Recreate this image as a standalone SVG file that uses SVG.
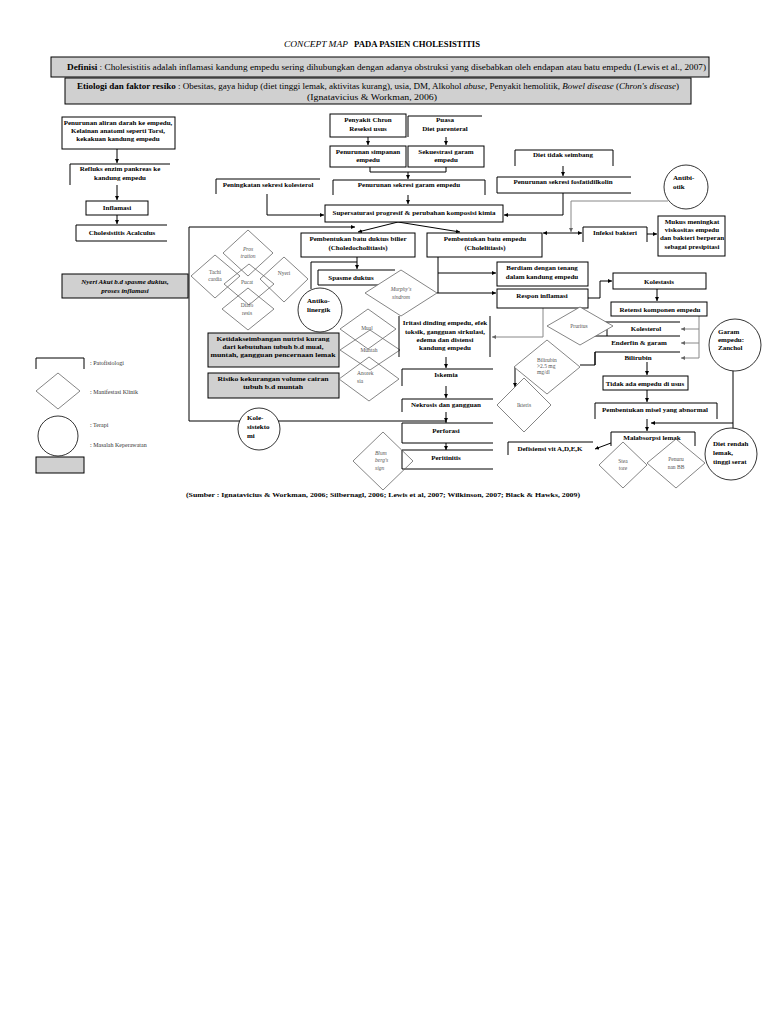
<svg xmlns="http://www.w3.org/2000/svg" width="768" height="1024" viewBox="0 0 768 1024">
<style>
text{font-family:"Liberation Serif","Times New Roman",serif;fill:#000}
.b{font-size:7px;font-weight:bold;text-anchor:middle}
.bl{font-size:7px;font-weight:bold}
.d{font-size:5.5px;fill:#555;text-anchor:middle}
.dl{font-size:5.5px;fill:#555}
.it{font-style:italic}
.box{fill:#fff;stroke:#000;stroke-width:1}
.op{fill:none;stroke:#000;stroke-width:1}
.gr{fill:#d0d0d0;stroke:#000;stroke-width:1}
.dia{fill:none;stroke:#666;stroke-width:0.8}
.cir{fill:#fff;stroke:#000;stroke-width:0.8}
.c{fill:none;stroke:#000;stroke-width:1}
.cg{fill:none;stroke:#888;stroke-width:1}
.lg{font-size:6px;fill:#333}
</style>
<defs>
<marker id="a" viewBox="0 0 10 10" refX="10" refY="5" markerWidth="4" markerHeight="4" orient="auto-start-reverse"><path d="M0,0 L10,5 L0,10 z" fill="#000"/></marker>
<marker id="ag" viewBox="0 0 10 10" refX="10" refY="5" markerWidth="4" markerHeight="4" orient="auto-start-reverse"><path d="M0,0 L10,5 L0,10 z" fill="#666"/></marker>
</defs>
<rect width="768" height="1024" fill="#fff"/>

<!-- header -->
<g id="title">
<text x="284" y="47" font-size="9" font-style="italic" textLength="64" lengthAdjust="spacingAndGlyphs">CONCEPT MAP</text>
<text x="354" y="47" font-size="8.5" font-weight="bold" textLength="126" lengthAdjust="spacingAndGlyphs">PADA PASIEN CHOLESISTITIS</text>
</g>
<g id="definisi">
<rect x="51" y="57" width="658" height="20" class="gr"/>
<text x="67" y="70" font-size="8.5" textLength="639" lengthAdjust="spacingAndGlyphs"><tspan font-weight="bold">Definisi</tspan> : Cholesistitis adalah inflamasi kandung empedu sering dihubungkan dengan adanya obstruksi yang disebabkan oleh  endapan atau batu empedu (Lewis et al., 2007)</text>
</g>
<g id="etiologi">
<rect x="65" y="78" width="626" height="26" class="gr"/>
<text x="77" y="89" font-size="8.5" textLength="602" lengthAdjust="spacingAndGlyphs"><tspan font-weight="bold">Etiologi dan faktor resiko</tspan> : Obesitas, gaya hidup (diet tinggi lemak, aktivitas kurang), usia, DM, Alkohol <tspan font-style="italic">abuse</tspan>, Penyakit hemolitik, <tspan font-style="italic">Bowel disease</tspan> (<tspan font-style="italic">Chron's disease</tspan>)</text>
<text x="372" y="100" font-size="8.5" text-anchor="middle" textLength="130" lengthAdjust="spacingAndGlyphs">(Ignatavicius &amp; Workman, 2006)</text>
</g>

<!-- connectors -->
<g id="connectors">
<path class="c" d="M117,149 V163" marker-end="url(#a)"/>
<path class="c" d="M117,185 V200" marker-end="url(#a)"/>
<path class="c" d="M117,215 V224" marker-end="url(#a)"/>
<path class="c" d="M368,137 V145" marker-end="url(#a)"/>
<path class="c" d="M446,137 V145" marker-end="url(#a)"/>
<path class="c" d="M370,167 V172 H446 V167"/>
<path class="c" d="M408,172 V179" marker-end="url(#a)"/>
<path class="c" d="M408,195 V204" marker-end="url(#a)"/>
<path class="c" d="M267,194 V215 H324" marker-end="url(#a)"/>
<path class="c" d="M563,166 V176" marker-end="url(#a)"/>
<path class="c" d="M563,193 V215 H504" marker-end="url(#a)"/>
<path class="cg" d="M668,201 H571 V232" marker-end="url(#ag)"/>
<path class="c" d="M582,233 H543" marker-start="url(#a)" marker-end="url(#a)"/>
<path class="c" d="M647,234 H657" marker-end="url(#a)"/>
<path class="c" d="M398,222 L358,232" marker-end="url(#a)"/>
<path class="c" d="M398,222 L460,232" marker-end="url(#a)"/>
<path class="c" d="M189,421 V227 H355" marker-end="url(#a)"/>
<path class="c" d="M189,421 H240"/>
<path class="c" d="M278,421 H446 V423"/>
<path class="c" d="M357,257 V269" marker-end="url(#a)"/>
<path class="c" d="M311,289 V262 H357"/>
<path class="c" d="M438,257 V293"/>
<path class="c" d="M438,273 H496" marker-end="url(#a)"/>
<path class="c" d="M437,293 H496" marker-end="url(#a)"/>
<path class="c" d="M588,298 H600 V281 H612" marker-end="url(#a)"/>
<path class="cg" d="M543,308 V337 H492" marker-end="url(#ag)"/>
<path class="c" d="M657,289 V301" marker-end="url(#a)"/>
<path class="cg" d="M699,316 V358"/>
<path class="cg" d="M699,329 H681" marker-end="url(#ag)"/>
<path class="cg" d="M699,343 H681" marker-end="url(#ag)"/>
<path class="cg" d="M699,358 H681" marker-end="url(#ag)"/>
<path class="c" d="M580,365 H595 V352"/>
<path class="c" d="M515,367 V387" marker-end="url(#a)"/>
<path class="c" d="M647,362 V375" marker-end="url(#a)"/>
<path class="c" d="M647,390 V402" marker-end="url(#a)"/>
<path class="c" d="M647,419 V431" marker-end="url(#a)"/>
<path class="c" d="M733,371 V430"/>
<path class="c" d="M733,423 H651" marker-end="url(#a)"/>
<path class="c" d="M611,443 L595,449" marker-end="url(#a)"/>
<path class="c" d="M446,357 V368" marker-end="url(#a)"/>
<path class="c" d="M446,386 V398" marker-end="url(#a)"/>
<path class="c" d="M446,412 V422" marker-end="url(#a)"/>
<path class="c" d="M446,443 V450" marker-end="url(#a)"/>
</g>

<!-- left column -->
<g id="n-penurunan-aliran">
<rect x="62" y="117" width="113" height="32" class="box"/>
<text class="b" x="118" y="125">Penurunan aliran darah ke empedu,</text>
<text class="b" x="118" y="133">Kelainan anatomi seperti Torsi,</text>
<text class="b" x="118" y="141">kekakuan kandung empedu</text>
</g>
<g id="n-refluks">
<path class="op" d="M70,185 V164 H170"/>
<text class="b" x="120" y="171">Refluks enzim pankreas ke</text>
<text class="b" x="120" y="180">kandung empedu</text>
</g>
<g id="n-inflamasi">
<rect x="86" y="201" width="62" height="14" class="box"/>
<text class="b" x="117" y="210">Inflamasi</text>
</g>
<g id="n-acalculus">
<path class="op" d="M167,225 H76 V241 H167"/>
<text class="b" x="122" y="235">Cholesistitis  Acalculus</text>
</g>
<g id="n-nyeri-akut">
<rect x="62" y="274" width="126" height="24" class="gr"/>
<text class="b it" x="125" y="284">Nyeri Akut b.d spasme duktus,</text>
<text class="b it" x="125" y="293">proses inflamasi</text>
</g>

<!-- middle top -->
<g id="n-chron">
<rect x="330" y="114" width="76" height="23" class="box"/>
<text class="b" x="368" y="122">Penyakit Chron</text>
<text class="b" x="368" y="131">Reseksi usus</text>
</g>
<g id="n-puasa">
<path class="op" d="M408,137 V116 H482"/>
<text class="b" x="445" y="122">Puasa</text>
<text class="b" x="445" y="131">Diet parenteral</text>
</g>
<g id="n-simpanan">
<rect x="330" y="146" width="76" height="21" class="box"/>
<text class="b" x="368" y="154">Penurunan simpanan</text>
<text class="b" x="368" y="162">empedu</text>
</g>
<g id="n-sekuestrasi">
<rect x="408" y="146" width="76" height="21" class="box"/>
<text class="b" x="446" y="154">Sekuestrasi garam</text>
<text class="b" x="446" y="162">empedu</text>
</g>
<g id="n-sekresi-garam">
<path class="op" d="M333,195 V180 H485 V195"/>
<text class="b" x="409" y="187">Penurunan sekresi garam empedu</text>
</g>
<g id="n-peningkatan">
<path class="op" d="M216,194 V179 H320"/>
<text class="b" x="268" y="187">Peningkatan sekresi kolesterol</text>
</g>
<g id="n-supersaturasi">
<rect x="325" y="205" width="178" height="17" class="box"/>
<text class="b" x="414" y="215">Supersaturasi progresif &amp; perubahan komposisi kimia</text>
</g>
<g id="n-diet-tidak">
<path class="op" d="M515,166 V150 H613 V166"/>
<text class="b" x="563" y="157">Diet tidak seimbang</text>
</g>
<g id="n-fosfatidilkolin">
<path class="op" d="M631,177 H497 V193 H631"/>
<text class="b" x="563" y="184">Penurunan sekresi fosfatidilkolin</text>
</g>
<g id="n-antibiotik">
<circle cx="686" cy="187" r="22" class="cir"/>
<text class="bl" x="673" y="180">Antibi-</text>
<text class="bl" x="673" y="189">otik</text>
</g>
<g id="n-infeksi">
<path class="op" d="M583,242 V227 H647 V242"/>
<text class="b" x="615" y="235">Infeksi bakteri</text>
</g>
<g id="n-mukus">
<rect x="658" y="216" width="67" height="40" class="box" stroke-width="1.3"/>
<text class="b" x="692" y="224">Mukus meningkat</text>
<text class="b" x="692" y="232">viskositas empedu</text>
<text class="b" x="692" y="240">dan bakteri berperan</text>
<text class="b" x="692" y="249">sebagai presipitasi</text>
</g>

<!-- batu -->
<g id="n-batu-duktus">
<rect x="301" y="233" width="114" height="24" class="box"/>
<text class="b" x="358" y="241">Pembentukan batu duktus bilier</text>
<text class="b" x="358" y="250">(Choledocholitiasis)</text>
</g>
<g id="n-batu-empedu">
<rect x="427" y="233" width="115" height="24" class="box"/>
<text class="b" x="485" y="241">Pembentukan batu empedu</text>
<text class="b" x="485" y="250">(Cholelitiasis)</text>
</g>

<!-- manifestations cluster -->
<g id="n-prostration"><path class="dia" d="M248,230 L273,253 L248,276 L223,253 Z"/><text class="d it" x="248" y="251">Pros</text><text class="d it" x="248" y="258">tration</text></g>
<g id="n-tachicardia"><path class="dia" d="M215,255 L240,276 L215,298 L191,276 Z"/><text class="d" x="215" y="274">Tachi</text><text class="d" x="215" y="281">cardia</text></g>
<g id="n-nyeri"><path class="dia" d="M284,257 L308,279 L284,302 L260,279 Z"/><text class="d" x="284" y="275">Nyeri</text></g>
<g id="n-pucat"><path class="dia" d="M249,264 L274,284 L249,305 L224,284 Z"/><text class="d" x="247" y="284">Pucat</text></g>
<g id="n-diaforesis"><path class="dia" d="M248,288 L274,309 L248,330 L222,309 Z"/><text class="d" x="247" y="307">Diafo</text><text class="d" x="247" y="315">resis</text></g>

<g id="n-spasme">
<path class="op" d="M395,270 H318 V285 H395"/>
<text class="b" x="351" y="280">Spasme duktus</text>
</g>
<g id="n-antikolinergik">
<circle cx="320" cy="310" r="22" class="cir"/>
<text class="bl" x="307" y="303">Antiko-</text>
<text class="bl" x="307" y="312">linergik</text>
</g>
<g id="n-murphy">
<path d="M401,270 L437,293 L401,316 L365,293 Z" fill="#fff" stroke="#666" stroke-width="0.8"/>
<text class="d it" x="401" y="291">Murphy's</text>
<text class="d it" x="401" y="299">sindrom</text>
</g>

<g id="n-ketidakseimbangan">
<rect x="208" y="333" width="131" height="34" class="gr"/>
<text class="b" x="273" y="341" textLength="113" lengthAdjust="spacingAndGlyphs">Ketidakseimbangan nutrisi kurang</text>
<text class="b" x="273" y="349" textLength="101" lengthAdjust="spacingAndGlyphs">dari kebutuhan tubuh b.d mual,</text>
<text class="b" x="273" y="357" textLength="125" lengthAdjust="spacingAndGlyphs">muntah, gangguan pencernaan lemak</text>
</g>
<g id="n-risiko">
<rect x="208" y="373" width="131" height="25" class="gr"/>
<text class="b" x="273" y="381" textLength="111" lengthAdjust="spacingAndGlyphs">Risiko kekurangan volume cairan</text>
<text class="b" x="273" y="389" textLength="60" lengthAdjust="spacingAndGlyphs">tubuh b.d muntah</text>
</g>
<g id="n-mual"><path class="dia" d="M368,309 L396,329 L368,349 L340,329 Z"/><text class="d" x="367" y="330">Mual</text></g>
<g id="n-muntah"><path class="dia" d="M370,330 L400,350 L370,370 L340,350 Z"/><text class="d" x="369" y="352">Muntah</text></g>
<g id="n-anoreksia"><path class="dia" d="M369,357 L399,379 L369,401 L339,379 Z"/><text class="dl" x="357" y="375">Anorek</text><text class="dl" x="357" y="383">sia</text></g>

<g id="n-kolesistektomi">
<circle cx="259" cy="429" r="21" class="cir"/>
<text class="bl" x="247" y="420">Kole-</text>
<text class="bl" x="247" y="429">sistekto</text>
<text class="bl" x="247" y="438">mi</text>
</g>

<!-- right of batu -->
<g id="n-berdiam">
<rect x="497" y="262" width="91" height="24" class="box"/>
<text class="b" x="542" y="270">Berdiam dengan tenang</text>
<text class="b" x="542" y="279">dalam kandung empedu</text>
</g>
<g id="n-respon">
<rect x="497" y="289" width="91" height="19" class="box"/>
<text class="b" x="542" y="298">Respon inflamasi</text>
</g>
<g id="n-iritasi">
<path class="op" d="M399,357 V316 M490,316 V357"/>
<text class="b" x="445" y="325">Iritasi dinding empedu, efek</text>
<text class="b" x="445" y="334">toksik, gangguan sirkulasi,</text>
<text class="b" x="445" y="342">edema dan distensi</text>
<text class="b" x="445" y="350">kandung empedu</text>
</g>
<g id="n-iskemia">
<path class="op" d="M493,369 H402 V386"/>
<text class="b" x="446" y="377">Iskemia</text>
</g>
<g id="n-nekrosis">
<path class="op" d="M493,399 H402 V412"/>
<text class="b" x="446" y="407">Nekrosis dan gangguan</text>
</g>
<g id="n-perforasi">
<path class="op" d="M493,423 H402 V443 H493"/>
<text class="b" x="446" y="433">Perforasi</text>
</g>
<g id="n-peritonitis">
<path class="op" d="M493,450 H402 V469 H493"/>
<text class="b" x="446" y="460">Peritinitis</text>
</g>
<g id="n-blumberg">
<path class="dia" d="M383,432 L413,461 L383,490 L353,461 Z"/>
<text class="dl it" x="375" y="455">Blum</text>
<text class="dl it" x="375" y="462">berg's</text>
<text class="dl it" x="375" y="470">sign</text>
</g>

<g id="n-kolestasis">
<rect x="613" y="273" width="93" height="16" class="box"/>
<text class="b" x="659" y="284">Kolestasis</text>
</g>
<g id="n-retensi">
<rect x="611" y="302" width="96" height="14" class="box" stroke-width="1.3"/>
<text class="b" x="660" y="312">Retensi komponen empedu</text>
</g>
<g id="n-kolesterol">
<path class="op" d="M600,322 H680 M607,322 V336"/>
<text class="b" x="646" y="331">Kolesterol</text>
</g>
<g id="n-enderfin">
<path class="op" d="M592,336 H680"/>
<text class="b" x="639" y="345">Enderfin &amp; garam</text>
</g>
<g id="n-bilirubin">
<path class="op" d="M595,365 V352 H680"/>
<text class="b" x="638" y="360">Bilirubin</text>
</g>
<g id="n-pruritus"><path d="M580,307 L613,326 L580,345 L547,326 Z" fill="#fff" stroke="#666" stroke-width="0.8"/><text class="d" x="579" y="328">Pruritus</text></g>
<g id="n-bilirubin-dx"><path d="M547,340 L580,367 L547,394 L514,367 Z" fill="#fff" stroke="#666" stroke-width="0.8"/><text class="dl" x="537" y="362">Bilirubin</text><text class="dl" x="537" y="368">&gt;2.5 mg</text><text class="dl" x="537" y="374">mg/dl</text></g>
<g id="n-ikteris"><path class="dia" d="M524,378 L551,405 L524,432 L497,405 Z"/><text class="d" x="524" y="407">Ikteris</text></g>
<g id="n-tidak-ada">
<rect x="603" y="376" width="85" height="14" class="box" stroke-width="1.3"/>
<text class="b" x="645" y="386">Tidak ada empedu di usus</text>
</g>
<g id="n-misel">
<path class="op" d="M595,419 V403 H717 V419"/>
<text class="b" x="655" y="412">Pembentukan misel yang abnormal</text>
</g>
<g id="n-malabsorpsi">
<path class="op" d="M611,446 V432 H695 V446"/>
<text class="b" x="652" y="440">Malabsorpsi lemak</text>
</g>
<g id="n-defisiensi">
<path class="op" d="M508,455 V442 H593"/>
<text class="b" x="550" y="451">Defisiensi vit A,D,E,K</text>
</g>
<g id="n-steatore"><path class="dia" d="M623,442 L647,465 L623,488 L599,465 Z"/><text class="d" x="623" y="463">Stea</text><text class="d" x="623" y="470">tore</text></g>
<g id="n-penurunan-bb"><path class="dia" d="M676,439 L705,463 L676,488 L647,463 Z"/><text class="d" x="676" y="461">Penuru</text><text class="d" x="676" y="469">nan BB</text></g>
<g id="n-garam-zanchol">
<circle cx="735" cy="345" r="26" class="cir"/>
<text class="bl" x="718" y="334">Garam</text>
<text class="bl" x="718" y="342">empedu:</text>
<text class="bl" x="718" y="350">Zanchol</text>
</g>
<g id="n-diet-rendah">
<circle cx="731" cy="454" r="26" class="cir"/>
<text class="bl" x="713" y="446">Diet rendah</text>
<text class="bl" x="713" y="455">lemak,</text>
<text class="bl" x="713" y="464">tinggi serat</text>
</g>

<!-- legend -->
<g id="legend">
<path class="op" d="M36,369 V358 H84 V369"/>
<text class="lg" x="90" y="365">: Patofisiologi</text>
<path class="dia" d="M58,373 L80,391 L58,409 L36,391 Z"/>
<text class="lg" x="90" y="394">: Manifestasi Klinik</text>
<circle cx="58" cy="436" r="20" class="cir"/>
<text class="lg" x="90" y="427">: Terapi</text>
<text class="lg" x="90" y="447">: Masalah Keperawatan</text>
<rect x="36" y="457" width="48" height="16" class="gr"/>
</g>

<g id="source">
<text x="383" y="497" font-size="7" font-weight="bold" text-anchor="middle" textLength="394" lengthAdjust="spacingAndGlyphs">(Sumber : Ignatavicius &amp; Workman, 2006; Silbernagl, 2006; Lewis et al, 2007; Wilkinson, 2007; Black &amp; Hawks, 2009)</text>
</g>
</svg>
